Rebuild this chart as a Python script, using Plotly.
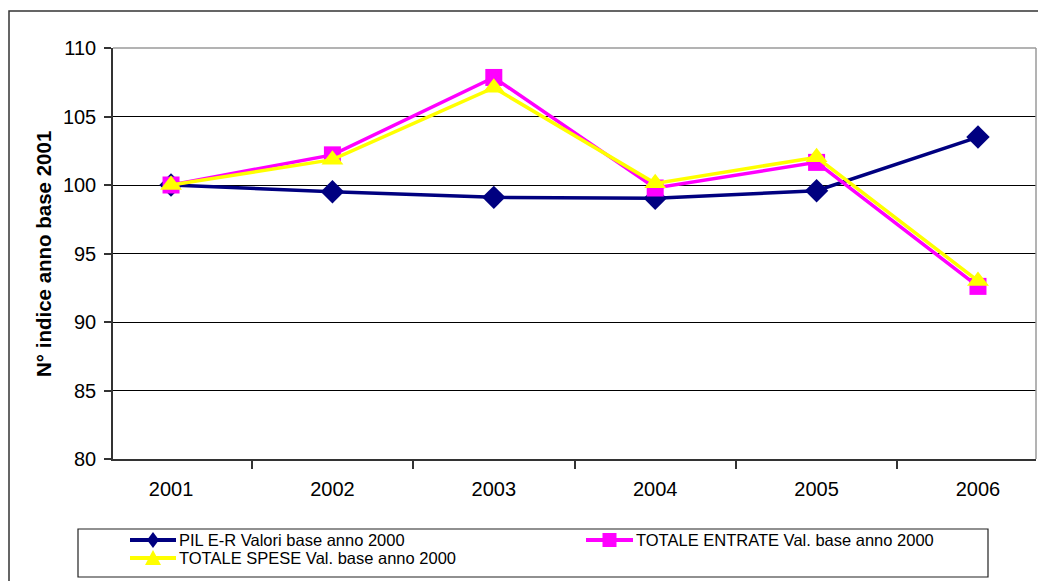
import plotly.graph_objects as go

# Index numbers, base year 2001 = 100
years = ["2001", "2002", "2003", "2004", "2005", "2006"]
pil_er = [100.0, 99.51, 99.10, 99.03, 99.58, 103.5]
totale_entrate = [100.0, 102.2, 107.85, 99.78, 101.65, 92.6]
totale_spese = [100.0, 101.85, 107.1, 100.12, 102.02, 93.0]

series_names = [
    "PIL E-R Valori base anno 2000",
    "TOTALE ENTRATE Val. base anno 2000",
    "TOTALE SPESE Val. base anno 2000",
]
y_ticks = [80, 85, 90, 95, 100, 105, 110]

W, H = 1038, 581
L, R, T, B = 113, 2, 48, 122
pw, ph = W - L - R, H - T - B


def px_x(px):
    return (px - L) / pw


def px_y(py):
    return (H - B - py) / ph


FONT = "Liberation Sans, Arial, sans-serif"

styles = [
    dict(color="#000080", symbol="diamond", size=18),
    dict(color="#FF00FF", symbol="square", size=17),
    dict(color="#FFFF00", symbol="triangle-up", size=19),
]
values = [pil_er, totale_entrate, totale_spese]

fig = go.Figure()
for name, vals, st in zip(series_names, values, styles):
    fig.add_trace(go.Scatter(
        x=years, y=vals, name=name, mode="lines+markers",
        line=dict(color=st["color"], width=3.5),
        marker=dict(symbol=st["symbol"], size=st["size"], color=st["color"]),
        showlegend=False,
    ))

shapes = [
    # outer frame of the chart
    dict(type="rect", xref="paper", yref="paper",
         x0=px_x(9), x1=px_x(W + 20), y0=px_y(H + 20), y1=px_y(11),
         line=dict(color="#333333", width=1.5), layer="below"),
    # top and right edges of the plot area
    dict(type="line", xref="paper", yref="paper", x0=0, x1=1, y0=1, y1=1,
         line=dict(color="#9a9a9a", width=1.5), layer="above"),
    dict(type="line", xref="paper", yref="paper", x0=1, x1=1, y0=0, y1=1,
         line=dict(color="#9a9a9a", width=1.5), layer="above"),
    # legend box
    dict(type="rect", xref="paper", yref="paper",
         x0=px_x(78), x1=px_x(988), y0=px_y(577), y1=px_y(529),
         line=dict(color="#222222", width=1.2), fillcolor="white",
         layer="above"),
]

# legend swatch outlines, in pixels around their centre
swatch_paths = {
    "diamond": "M0,8 L6,0 L0,-8 L-6,0 Z",
    "square": "M-7,-7 L7,-7 L7,7 L-7,7 Z",
    "triangle-up": "M0,8 L8,-7 L-8,-7 Z",
}

annotations = [dict(
    text="<b>N° indice anno base 2001</b>", textangle=-90,
    xref="paper", yref="paper", x=px_x(43), y=px_y(254),
    xanchor="center", yanchor="middle", showarrow=False,
    font=dict(family=FONT, size=20.5, color="black"),
)]

# legend layout: (line start, line end, row centre) for each series
legend_slots = [(130, 176, 540), (586, 633, 540), (130, 176, 558)]
for name, st, (xa, xb, yc) in zip(series_names, styles, legend_slots):
    shapes.append(dict(
        type="line", xref="paper", yref="paper",
        x0=px_x(xa), x1=px_x(xb), y0=px_y(yc), y1=px_y(yc),
        line=dict(color=st["color"], width=4), layer="above"))
    shapes.append(dict(
        type="path", xref="paper", yref="paper",
        xsizemode="pixel", ysizemode="pixel",
        xanchor=px_x((xa + xb) / 2), yanchor=px_y(yc),
        path=swatch_paths[st["symbol"]],
        fillcolor=st["color"], line=dict(width=0), layer="above"))
    annotations.append(dict(
        text=name, xref="paper", yref="paper",
        x=px_x(xb + 2), y=px_y(yc), xanchor="left", yanchor="middle",
        showarrow=False, borderpad=0,
        font=dict(family=FONT, size=16.5, color="black")))

fig.update_layout(
    width=W, height=H,
    margin=dict(l=L, r=R, t=T, b=B, autoexpand=False),
    paper_bgcolor="white", plot_bgcolor="white",
    font=dict(family=FONT, color="black"),
    shapes=shapes,
    annotations=annotations,
    showlegend=False,
)

fig.update_xaxes(
    type="category", showgrid=False, automargin=False,
    showline=True, linecolor="#333333", linewidth=1.5,
    ticks="outside", tickson="boundaries", ticklen=8,
    tickcolor="#333333", tickwidth=1.5,
    tickfont=dict(family=FONT, size=20, color="black"),
    ticklabelstandoff=11,
)
fig.update_yaxes(
    range=[80, 110], tickvals=y_ticks, automargin=False,
    showgrid=True, gridcolor="black", gridwidth=1,
    zeroline=False,
    showline=True, linecolor="#333333", linewidth=1.5,
    ticks="outside", ticklen=7, tickcolor="#333333", tickwidth=1.5,
    tickfont=dict(family=FONT, size=20, color="black"),
    ticklabelstandoff=4,
)

fig.write_html("out.html")
